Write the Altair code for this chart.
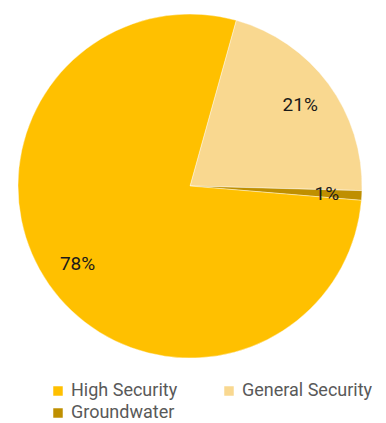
import altair as alt
import pandas as pd

categories = ["General Security", "Groundwater", "High Security"]
values = [21.1, 0.9, 78.0]
labels = ["21%", "1%", "78%"]
legend_order = ["High Security", "Groundwater", "General Security"]
colors = ["#FFC000", "#BF8F00", "#F9D890"]

df = pd.DataFrame({"cat": categories, "val": values, "label": labels, "ord": [0, 1, 2]})

start = 0.272
base = alt.Chart(df).encode(
    theta=alt.Theta("val:Q", stack=True, scale=alt.Scale(range=[start, start + 6.283185307])),
    order=alt.Order("ord:Q"),
)

pie = base.mark_arc(outerRadius=172, stroke="white", strokeWidth=0.4).encode(
    color=alt.Color(
        "cat:N",
        scale=alt.Scale(domain=legend_order, range=colors),
        legend=alt.Legend(
            title=None,
            orient="none",
            legendX=31,
            legendY=368,
            columns=2,
            columnPadding=42,
            rowPadding=4,
            symbolType="square",
            symbolSize=90,
            symbolStrokeWidth=0,
            labelFont="Roboto",
            labelFontSize=18,
            labelColor="#595959",
            symbolOffset=0,
        ),
    )
)

text = base.mark_text(radius=137, font="Roboto", fontSize=19, color="#1a1a1a").encode(
    text="label:N"
)

chart = (
    (pie + text)
    .properties(width=344, height=344, padding={"left": 9, "top": 5, "right": 0, "bottom": 0})
    .configure_view(stroke=None)
)

chart.save("out.html", embed_options={"renderer": "svg", "actions": False})
